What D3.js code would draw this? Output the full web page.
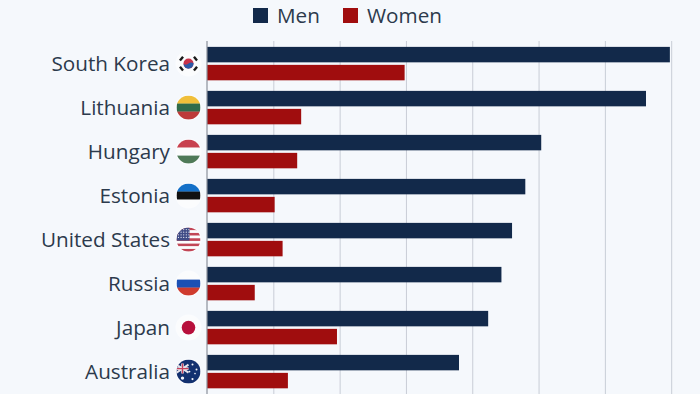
<!DOCTYPE html>
<html>
<head>
<meta charset="utf-8">
<script src="https://cdn.jsdelivr.net/npm/d3@7"></script>
<style>
  html, body { margin: 0; padding: 0; background: #f5f8fc; overflow: hidden; }
  text { font-family: "Open Sans", sans-serif; }
</style>
</head>
<body>
<script>
'use strict'
const countries = ['South Korea', 'Lithuania', 'Hungary', 'Estonia', 'United States', 'Russia', 'Japan', 'Australia'];
const men = [34.9, 33.1, 25.2, 24.0, 23.0, 22.2, 21.2, 19.0];
const women = [14.9, 7.1, 6.8, 5.1, 5.7, 3.6, 9.8, 6.1];
const seriesNames = ['Men', 'Women'];
const seriesColors = ['#12294a', '#a00d0e'];
const tickValues = [5, 10, 15, 20, 25, 30, 35];

const width = 700;
const height = 394;

const svg = d3.select('body').append('svg')
  .attr('width', width)
  .attr('height', height)
  .style('display', 'block');

const x = d3.scaleLinear().domain([0, 35]).range([207, 671.2]);
const y = d3.scaleBand().domain(countries).range([41.6, 393.6]).paddingInner(0.24).paddingOuter(0.12);
const ySeries = d3.scaleBand().domain(seriesNames).range([0, y.bandwidth()]).paddingInner(0.14);

// gridlines
const grid = svg.append('g')
  .attr('transform', `translate(0, ${height})`)
  .call(d3.axisBottom(x).tickValues(tickValues).tickSize(-(height - 41)).tickFormat(''));
grid.select('.domain').remove();
grid.selectAll('line').attr('stroke', '#c8cdd6').attr('stroke-width', 1);

// bars
const rows = svg.append('g').selectAll('g')
  .data(countries)
  .join('g')
  .attr('transform', d => `translate(0, ${y(d)})`);

rows.append('rect')
  .attr('x', x(0))
  .attr('y', ySeries('Men'))
  .attr('width', (d, i) => x(men[i]) - x(0))
  .attr('height', ySeries.bandwidth())
  .attr('fill', seriesColors[0]);

rows.append('rect')
  .attr('x', x(0))
  .attr('y', ySeries('Women'))
  .attr('width', (d, i) => x(women[i]) - x(0))
  .attr('height', ySeries.bandwidth())
  .attr('fill', seriesColors[1]);

// baseline
svg.append('line')
  .attr('x1', x(0)).attr('x2', x(0))
  .attr('y1', 41).attr('y2', height)
  .attr('stroke', '#8b919b')
  .attr('stroke-width', 1.2);

// country labels
rows.append('text')
  .attr('x', 170)
  .attr('y', y.bandwidth() / 2)
  .attr('dy', '0.35em')
  .attr('text-anchor', 'end')
  .attr('font-size', 20.7)
  .attr('fill', '#2c3a4c')
  .text(d => d);

/*
-------------------------------------------
FLAGS
-------------------------------------------*/
const defs = svg.append('defs');
defs.append('clipPath').attr('id', 'flagClip')
  .append('circle').attr('r', 12);

function stripes(g, colors) {
  const h = 24 / colors.length;
  colors.forEach((c, i) => {
    g.append('rect').attr('x', -12).attr('y', -12 + i * h).attr('width', 24).attr('height', h + 0.2).attr('fill', c);
  });
}

const flags = {
  'South Korea': g => {
    g.append('rect').attr('x', -12).attr('y', -12).attr('width', 24).attr('height', 24).attr('fill', '#fbfcfd');
    g.append('circle').attr('r', 5).attr('fill', '#c8324a');
    g.append('path').attr('d', 'M-5,0.5 A5,5 0 0 0 5,-0.5 Q2,-2 0,0 Q-2,2 -5,0.5Z').attr('fill', '#2a5aa8');
    [[-7, -5, -50], [7, -5, 50], [-7, 5, 50], [7, 5, -50]].forEach(t => {
      g.append('rect').attr('x', -2.4).attr('y', -1.2).attr('width', 4.8).attr('height', 2.4)
        .attr('fill', '#1a1a1a')
        .attr('transform', `translate(${t[0]}, ${t[1]}) rotate(${t[2]})`);
    });
  },
  'Lithuania': g => stripes(g, ['#f0bf3a', '#2f6b4b', '#bd3b3a']),
  'Hungary': g => stripes(g, ['#c8414f', '#fbfcfd', '#4f7a58']),
  'Estonia': g => stripes(g, ['#1470c8', '#111111', '#fbfcfd']),
  'United States': g => {
    const colors = d3.range(9).map(i => i % 2 ? '#fbfcfd' : '#c24656');
    stripes(g, colors);
    g.append('rect').attr('x', -12).attr('y', -12).attr('width', 13).attr('height', 13).attr('fill', '#3f4c86');
    d3.range(-10, 1, 2.6).forEach(px => d3.range(-10, 0, 2.6).forEach(py => {
      g.append('circle').attr('cx', px).attr('cy', py).attr('r', 0.6).attr('fill', '#e6e8f2');
    }));
  },
  'Russia': g => stripes(g, ['#fbfcfd', '#1c50b4', '#cf3b2e']),
  'Japan': g => {
    g.append('rect').attr('x', -12).attr('y', -12).attr('width', 24).attr('height', 24).attr('fill', '#fbfcfd');
    g.append('circle').attr('r', 6.8).attr('fill', '#b70f3b');
  },
  'Australia': g => {
    g.append('rect').attr('x', -12).attr('y', -12).attr('width', 24).attr('height', 24).attr('fill', '#12306f');
    g.append('path').attr('d', 'M-12,-7 L0,1 M0,-7 L-12,1').attr('stroke', '#e7e3ea').attr('stroke-width', 2);
    g.append('path').attr('d', 'M-6,-8 V2 M-12,-3 H0').attr('stroke', '#e7e3ea').attr('stroke-width', 2.6);
    g.append('path').attr('d', 'M-6,-8 V2 M-12,-3 H0').attr('stroke', '#c6405a').attr('stroke-width', 1.3);
    [[-6, 6.5, 1.7], [4, -7, 1], [8, -2, 1], [4, 7.5, 1.1], [1, 0, 0.9], [6.5, 2, 0.8]].forEach(s => {
      g.append('circle').attr('cx', s[0]).attr('cy', s[1]).attr('r', s[2]).attr('fill', '#f4f5fa');
    });
  }
};

rows.each(function (d) {
  const row = d3.select(this);
  row.append('circle')
    .attr('cx', 188.5)
    .attr('cy', y.bandwidth() / 2)
    .attr('r', 13)
    .attr('fill', '#fbfcfe');
  const g = row.append('g')
    .attr('transform', `translate(188.5, ${y.bandwidth() / 2})`)
    .append('g')
    .attr('clip-path', 'url(#flagClip)');
  flags[d](g);
});

// legend
const legendX = [253, 343];
const legend = svg.append('g').selectAll('g')
  .data(seriesNames)
  .join('g')
  .attr('transform', (d, i) => `translate(${legendX[i]}, 8)`);

legend.append('rect')
  .attr('width', 15)
  .attr('height', 15)
  .attr('fill', (d, i) => seriesColors[i]);

legend.append('text')
  .attr('x', 24)
  .attr('y', 7.5)
  .attr('dy', '0.35em')
  .attr('font-size', 20.7)
  .attr('fill', '#2c3a4c')
  .text(d => d);
</script>
</body>
</html>
